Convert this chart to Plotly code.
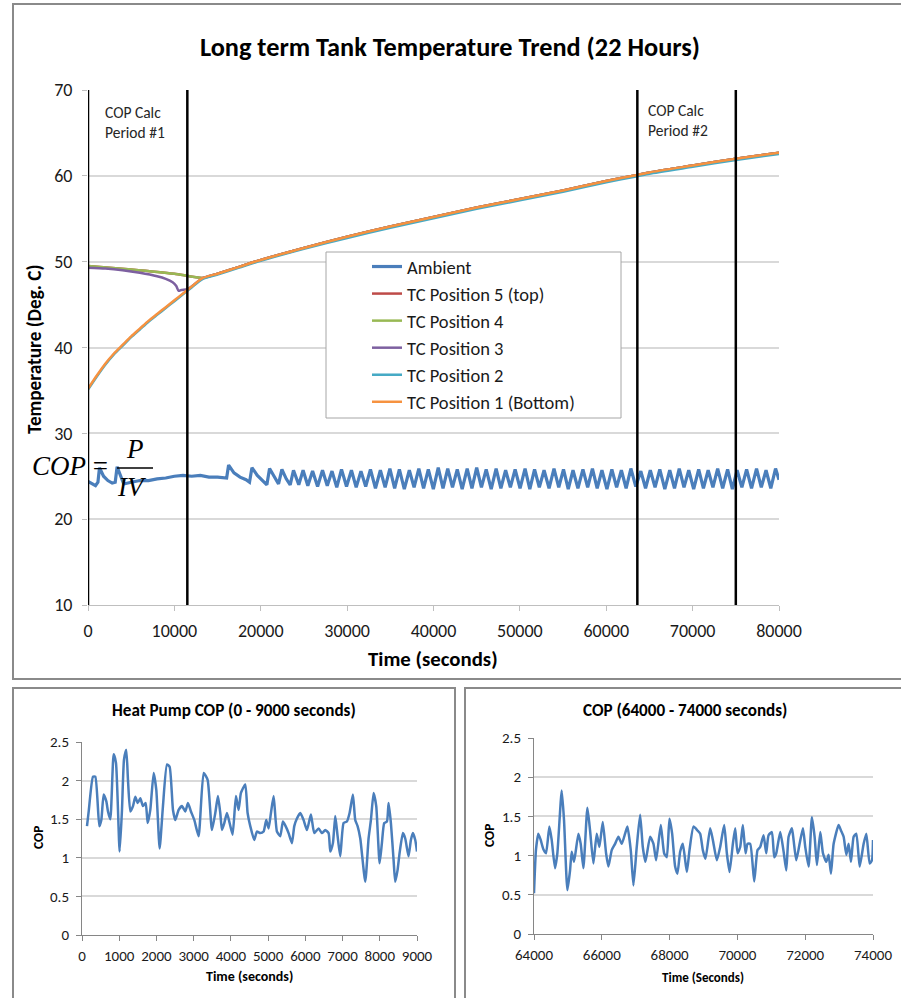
import plotly.graph_objects as go

W, H = 901, 998
def px(x): return x / W
def py(y): return 1 - y / H

FONT = "Carlito, Calibri, 'Liberation Sans Narrow', 'Open Sans', sans-serif"
SERIF = "'Liberation Serif', 'Times New Roman', serif"

# ---------------- Data: long term tank temperature ----------------
amb_early_t = [0, 400, 870, 1150, 1330, 1800, 2300, 2800, 3150, 3370, 3800, 4140, 5000, 6000, 7000,
               8000, 9000, 10000, 11000, 12000, 13000, 14000, 15000, 16050, 16280, 16900, 17600, 18300,
               18700, 18980, 19600, 20200, 20710, 21020, 21600, 22060, 22450, 22950, 23410, 23790, 24400]
amb_early_v = [24.4, 24.2, 23.9, 24.3, 26.0, 25.0, 24.5, 24.2, 24.3, 26.1, 24.9, 24.1, 24.3, 24.5, 24.5,
               24.7, 24.8, 25.0, 25.1, 25.0, 25.1, 24.9, 24.9, 24.8, 26.3, 25.4, 24.9, 24.6,
               24.3, 26.0, 25.1, 24.5, 24.0, 25.9, 24.8, 24.1, 25.8, 24.7, 24.0, 25.7, 24.0]
amb_peak_t = [24900, 26000, 27150, 28250, 29350, 30500, 31600, 32700, 33850, 34950,
              36050, 37200, 38300, 39400, 40550, 41650, 42750, 43900, 45000, 46100,
              47250, 48350, 49450, 50600, 51700, 52800, 53950, 55050, 56150, 57300,
              58400, 59500, 60650, 61750, 62850, 64000, 65100, 66200, 67350, 68450,
              69550, 70700, 71800, 72900, 74050, 75150, 76250, 77400, 78500, 79600]
amb_peak_v = [25.7, 25.6, 25.7, 25.6, 25.8, 25.7, 25.6, 25.8, 25.7, 25.9,
              25.8, 25.7, 25.9, 25.8, 26.0, 25.9, 25.8, 25.9, 26.0, 25.8,
              25.9, 25.7, 25.8, 25.9, 25.8, 25.7, 25.9, 25.8, 25.7, 25.8,
              25.9, 25.7, 25.8, 25.7, 25.9, 25.6, 25.7, 25.8, 25.7, 25.9,
              25.7, 25.8, 25.7, 25.9, 25.8, 25.7, 25.8, 25.9, 25.7, 25.9]
amb_trough_t = [25450, 26580, 27700, 28800, 29930, 31050, 32150, 33280, 34400, 35500,
                36620, 37750, 38850, 39980, 41100, 42200, 43320, 44450, 45550, 46680,
                47800, 48900, 50020, 51150, 52250, 53380, 54500, 55600, 56720, 57850,
                58950, 60080, 61200, 62300, 63420, 64550, 65650, 66780, 67900, 69000,
                70120, 71250, 72350, 73480, 74600, 75700, 76820, 77950, 79050, 80000]
amb_trough_v = [23.9, 23.8, 23.9, 23.7, 23.8, 23.7, 23.8, 23.6, 23.7, 23.6,
                23.5, 23.7, 23.6, 23.5, 23.6, 23.7, 23.5, 23.6, 23.7, 23.5,
                23.6, 23.7, 23.6, 23.5, 23.7, 23.6, 23.7, 23.5, 23.6, 23.7,
                23.6, 23.5, 23.7, 23.6, 23.8, 23.6, 23.7, 23.5, 23.6, 23.7,
                23.5, 23.6, 23.7, 23.6, 23.5, 23.7, 23.6, 23.7, 23.6, 24.6]

tc1_t = [0, 1000, 2000, 3000, 4000, 5000, 6000, 7000, 8000, 9000, 10000, 11000, 12000, 13300, 15000,
         17500, 20000, 25000, 30000, 35000, 40000, 45000, 50000, 55000, 60000, 63600, 65000, 70000, 75000, 80000]
tc1_v = [35.2, 36.7, 38.1, 39.3, 40.3, 41.3, 42.2, 43.1, 43.9, 44.7, 45.5, 46.3, 47.1, 48.1, 48.6,
         49.4, 50.2, 51.6, 52.9, 54.1, 55.2, 56.3, 57.3, 58.3, 59.4, 60.1, 60.4, 61.2, 62.0, 62.7]
tc2_v = [35.1, 36.6, 38.0, 39.2, 40.2, 41.2, 42.1, 43.0, 43.8, 44.6, 45.4, 46.2, 47.0, 48.0, 48.5,
         49.3, 50.1, 51.5, 52.75, 53.95, 55.05, 56.15, 57.15, 58.15, 59.25, 59.95, 60.25, 61.05, 61.85, 62.55]
tc4_t = [0, 5000, 10000, 13300, 15000, 17500, 20000, 25000, 30000, 35000, 40000, 45000, 50000, 55000,
         60000, 63600, 65000, 70000, 75000, 80000]
tc4_v = [49.5, 49.1, 48.6, 48.1, 48.6, 49.4, 50.2, 51.6, 52.9, 54.1, 55.2, 56.3, 57.3, 58.3,
         59.4, 60.1, 60.4, 61.2, 62.0, 62.7]
tc5_v = [49.5, 49.1, 48.6, 48.1, 48.6, 49.4, 50.2, 51.6, 52.9, 54.1, 55.2, 56.3, 57.3, 58.3,
         59.4, 60.1, 60.4, 61.2, 62.0, 62.7]
tc3_t = [0, 2000, 4000, 6000, 8000, 9000, 9800, 10200, 10500, 10800, 11500, 12000, 13300, 15000,
         17500, 20000, 25000, 30000, 35000, 40000, 45000, 50000, 55000, 60000, 63600, 65000, 70000, 75000, 80000]
tc3_v = [49.3, 49.2, 49.0, 48.7, 48.3, 48.0, 47.6, 47.2, 46.6, 46.7, 46.8, 47.1, 48.1, 48.6,
         49.4, 50.2, 51.6, 52.9, 54.1, 55.2, 56.3, 57.3, 58.3, 59.4, 60.1, 60.4, 61.2, 62.0, 62.7]

period_lines = [0, 11500, 63600, 75000]

# ---------------- Data: COP 0 - 9000 s ----------------
cop1_t = [134, 180, 295, 358, 465, 519, 582, 654, 698, 761, 850, 913, 1011, 1074, 1128, 1190, 1235, 1298,
          1370, 1432, 1495, 1567, 1638, 1710, 1764, 1835, 1925, 1996, 2086, 2175, 2283, 2354, 2444, 2507,
          2596, 2686, 2775, 2847, 2927, 3017, 3133, 3268, 3375, 3491, 3581, 3652, 3715, 3760, 3823, 3894,
          3966, 4046, 4136, 4207, 4270, 4386, 4449, 4521, 4628, 4700, 4789, 4879, 4950, 5013, 5076, 5148,
          5237, 5327, 5398, 5470, 5550, 5640, 5703, 5774, 5864, 5953, 6043, 6150, 6240, 6356, 6446, 6535,
          6625, 6670, 6741, 6804, 6867, 6938, 7028, 7117, 7189, 7278, 7341, 7404, 7476, 7610, 7699, 7762,
          7834, 7905, 7995, 8057, 8120, 8192, 8237, 8299, 8371, 8415, 8478, 8532, 8621, 8684, 8773, 8836,
          8890, 8953, 9000]
cop1_v = [1.41, 1.60, 2.05, 2.05, 1.41, 1.49, 1.82, 1.73, 1.60, 1.50, 2.34, 2.23, 1.08, 1.62, 2.27, 2.40, 2.01, 1.60,
          1.67, 1.79, 1.71, 1.77, 1.67, 1.71, 1.45, 1.62, 2.10, 1.88, 1.12, 1.67, 2.21, 2.18, 1.62, 1.49,
          1.62, 1.67, 1.60, 1.71, 1.60, 1.49, 1.28, 2.10, 2.01, 1.36, 1.58, 1.80, 1.58, 1.36, 1.45, 1.58,
          1.45, 1.30, 1.80, 1.62, 1.84, 1.95, 1.58, 1.41, 1.23, 1.34, 1.32, 1.34, 1.49, 1.38, 1.58, 1.80,
          1.34, 1.28, 1.47, 1.41, 1.32, 1.19, 1.41, 1.51, 1.58, 1.49, 1.36, 1.56, 1.32, 1.38, 1.32, 1.36,
          1.32, 1.08, 1.19, 1.54, 1.28, 1.02, 1.45, 1.47, 1.58, 1.82, 1.49, 1.41, 1.25, 0.69, 1.25, 1.49,
          1.84, 1.67, 0.93, 1.19, 1.45, 1.47, 1.71, 1.45, 0.97, 0.69, 0.84, 1.06, 1.32, 1.25, 1.02, 1.23,
          1.32, 1.23, 1.08]

# ---------------- Data: COP 64000 - 74000 s ----------------
cop2_t = [64000, 64059, 64128, 64197, 64276, 64354, 64453, 64522, 64620, 64689, 64817, 64886, 64984, 65063,
          65112, 65181, 65309, 65378, 65457, 65575, 65654, 65752, 65850, 65929, 66028, 66126, 66195, 66293,
          66392, 66490, 66588, 66687, 66756, 66854, 66933, 67031, 67130, 67209, 67287, 67425, 67524, 67602,
          67740, 67839, 67917, 67996, 68075, 68163, 68232, 68311, 68390, 68508, 68587, 68705, 68823, 68902,
          68980, 69059, 69197, 69276, 69394, 69492, 69610, 69689, 69768, 69866, 69935, 70004, 70083, 70161,
          70240, 70299, 70378, 70496, 70594, 70673, 70772, 70850, 70919, 71018, 71087, 71146, 71264, 71363,
          71441, 71510, 71608, 71657, 71736, 71835, 71933, 72002, 72100, 72199, 72278, 72346, 72445, 72524,
          72622, 72691, 72760, 72839, 72986, 73055, 73134, 73213, 73281, 73350, 73429, 73508, 73606, 73724,
          73803, 73902, 73970, 74000]
cop2_v = [0.52, 1.08, 1.28, 1.20, 1.08, 1.03, 1.37, 1.20, 0.84, 1.03, 1.83, 1.45, 0.56, 0.81,
          1.05, 0.92, 1.28, 1.15, 0.84, 1.61, 1.32, 0.90, 1.28, 1.11, 1.43, 1.03, 0.86, 1.07,
          1.15, 1.24, 1.15, 1.28, 1.37, 1.07, 0.62, 1.11, 1.52, 1.11, 0.92, 1.24, 1.15, 0.94,
          1.39, 1.03, 0.98, 1.47, 1.28, 0.86, 0.77, 1.05, 1.15, 0.79, 1.07, 1.37, 1.32, 1.28,
          1.07, 0.96, 1.35, 1.20, 0.94, 1.11, 1.39, 1.03, 0.79, 1.15, 1.35, 1.03, 1.11, 1.39,
          1.03, 1.15, 1.15, 0.67, 1.07, 1.11, 1.26, 1.03, 1.26, 1.30, 0.98, 1.03, 1.30, 1.05,
          0.81, 1.24, 1.35, 1.20, 0.94, 1.15, 1.35, 1.11, 0.86, 1.49, 1.24, 0.88, 1.30, 1.03,
          0.92, 1.01, 0.77, 1.15, 1.39, 1.32, 1.24, 1.01, 1.15, 0.92, 1.24, 1.28, 0.86, 1.15,
          1.28, 0.90, 0.94, 1.20]

# merge ambient readings in time order
amb = sorted(list(zip(amb_early_t, amb_early_v)) + list(zip(amb_peak_t, amb_peak_v)) +
             list(zip(amb_trough_t, amb_trough_v)))
amb_t = [p[0] for p in amb]
amb_v = [p[1] for p in amb]

C_AMB = "#4A7EBB"
fig = go.Figure()
series = [
    ("Ambient", amb_t, amb_v, C_AMB, 3.2, "linear"),
    ("TC Position 5 (top)", tc4_t, tc5_v, "#BE4B48", 2.5, "spline"),
    ("TC Position 4", tc4_t, tc4_v, "#98B954", 2.5, "spline"),
    ("TC Position 3", tc3_t, tc3_v, "#7D60A0", 2.5, "spline"),
    ("TC Position 2", tc1_t, tc2_v, "#46AAC5", 2.5, "spline"),
    ("TC Position 1 (Bottom)", tc1_t, tc1_v, "#F69240", 2.5, "spline"),
]
for i, (name, t, v, c, w, shp) in enumerate(series):
    fig.add_trace(go.Scatter(x=t, y=v, name=name, mode="lines", legendgroup=str(i),
                             line=dict(color=c, width=w, shape=shp, smoothing=0.6),
                             xaxis="x", yaxis="y"))

fig.add_trace(go.Scatter(x=cop1_t, y=cop1_v, mode="lines", showlegend=False,
                         line=dict(color=C_AMB, width=2.5, shape="spline", smoothing=0.5),
                         xaxis="x2", yaxis="y2"))
fig.add_trace(go.Scatter(x=cop2_t, y=cop2_v, mode="lines", showlegend=False,
                         line=dict(color=C_AMB, width=2.5, shape="spline", smoothing=0.5),
                         xaxis="x3", yaxis="y3"))

shapes = []
# chart frames
FR = dict(color="#8a8a8a", width=2)
shapes.append(dict(type="rect", xref="paper", yref="paper", x0=px(13), x1=px(905), y0=py(679), y1=py(4),
                   line=FR, layer="below"))
shapes.append(dict(type="rect", xref="paper", yref="paper", x0=px(13), x1=px(455), y0=py(1003), y1=py(688),
                   line=FR, layer="below"))
shapes.append(dict(type="rect", xref="paper", yref="paper", x0=px(465), x1=px(905), y0=py(1003), y1=py(688),
                   line=FR, layer="below"))
# COP calc period lines
for xv in period_lines:
    shapes.append(dict(type="line", xref="x", yref="y", x0=xv, x1=xv, y0=10, y1=70,
                       line=dict(color="black", width=2.5), layer="above"))
# legend box
shapes.append(dict(type="rect", xref="paper", yref="paper", x0=px(326), x1=px(621), y0=py(418), y1=py(252),
                   fillcolor="white", line=dict(color="#a6a6a6", width=1), layer="above"))
# fraction bar of COP formula
shapes.append(dict(type="line", xref="paper", yref="paper", x0=px(117), x1=px(153), y0=py(468), y1=py(468),
                   line=dict(color="black", width=1.5), layer="above"))

ann = []
def A(text, x, y, size, xa="center", ya="middle", bold=False, family=FONT, color="#000000", angle=0, align="center"):
    if bold:
        text = "<b>" + text + "</b>"
    ann.append(dict(text=text, x=px(x), y=py(y), xref="paper", yref="paper", showarrow=False,
                    xanchor=xa, yanchor=ya, textangle=angle, align=align,
                    font=dict(family=family, size=size, color=color)))

A("Long term Tank Temperature Trend (22 Hours)", 450, 47, 26.3, bold=True)
A("Temperature (Deg. C)", 35, 349, 19.3, bold=True, angle=-90)
A("Time (seconds)", 433, 659, 20.8, bold=True)
A("COP Calc<br>Period #1", 103, 123, 15.5, xa="left", align="left", color="#262626")
A("COP Calc<br>Period #2", 646, 121, 15.5, xa="left", align="left", color="#262626")
A("<i>COP</i> =", 110, 466, 27, xa="right", family=SERIF)
A("<i>P</i>", 135, 449, 27, family=SERIF)
A("<i>IV</i>", 132, 487, 27, family=SERIF)

A("Heat Pump COP (0 - 9000 seconds)", 234, 710, 17.1, bold=True)
A("Time (seconds)", 249, 976, 14, bold=True)
A("COP", 38, 838, 13.5, bold=True, angle=-90)
A("COP (64000 - 74000 seconds)", 685, 710, 17.1, bold=True)
A("Time (Seconds)", 703, 977, 13, bold=True)
A("COP", 489, 836, 13.5, bold=True, angle=-90)

AX = "#bfbfbf"
GR = "#d9d9d9"
tick_top = dict(family=FONT, size=18, color="#1a1a1a")
tick_bot = dict(family=FONT, size=15, color="#1a1a1a")

fig.update_layout(
    width=W, height=H, margin=dict(l=0, r=0, t=0, b=0, autoexpand=False),
    paper_bgcolor="white", plot_bgcolor="white",
    shapes=shapes, annotations=ann,
    showlegend=True,
    legend=dict(x=px(367), y=py(248), xanchor="left", yanchor="top", bgcolor="rgba(0,0,0,0)",
                borderwidth=0, font=dict(family=FONT, size=18.5, color="#1a1a1a"),
                tracegroupgap=4.2, traceorder="normal"),
    xaxis=dict(domain=[px(88), px(779)], range=[0, 80000], dtick=10000, tick0=0, tickformat="d",
               showgrid=False, showline=True, linecolor=AX, linewidth=1, ticks="outside", ticklen=5,
               tickcolor=AX, tickfont=tick_top, zeroline=False, anchor="y", fixedrange=True,
               ticklabelstandoff=4),
    yaxis=dict(domain=[py(605), py(90)], range=[10, 70], dtick=10, tick0=10, showgrid=True, gridcolor=GR,
               gridwidth=1.5, showline=False, ticks="outside", ticklen=5, tickcolor=AX, tickfont=tick_top,
               zeroline=False, anchor="x", fixedrange=True, ticklabelstandoff=6),
    xaxis2=dict(domain=[px(82), px(417)], range=[0, 9000], dtick=1000, tick0=0, tickformat="d", showgrid=False,
                showline=True, linecolor="#868686", ticks="outside", ticklen=5, tickcolor="#868686",
                tickfont=tick_bot, zeroline=False, anchor="y2", ticklabelstandoff=2),
    yaxis2=dict(domain=[py(935), py(742)], range=[0, 2.5], dtick=0.5, tick0=0, showgrid=True, gridcolor=GR,
                gridwidth=1.5, showline=True, linecolor="#868686", ticks="outside", ticklen=5,
                tickcolor="#868686", tickfont=tick_bot, zeroline=False, anchor="x2", ticklabelstandoff=4),
    xaxis3=dict(domain=[px(534), px(873)], range=[64000, 74000], dtick=2000, tick0=64000, tickformat="d",
                showgrid=False, showline=True, linecolor="#868686", ticks="outside", ticklen=5,
                tickcolor="#868686", tickfont=tick_bot, zeroline=False, anchor="y3", ticklabelstandoff=2),
    yaxis3=dict(domain=[py(934), py(738)], range=[0, 2.5], dtick=0.5, tick0=0, showgrid=True, gridcolor=GR,
                gridwidth=1.5, showline=True, linecolor="#868686", ticks="outside", ticklen=5,
                tickcolor="#868686", tickfont=tick_bot, zeroline=False, anchor="x3", ticklabelstandoff=4),
)

fig.write_html("out.html", config={"displayModeBar": False},
               post_script="document.body.style.margin='0';document.documentElement.style.overflow='hidden';")
